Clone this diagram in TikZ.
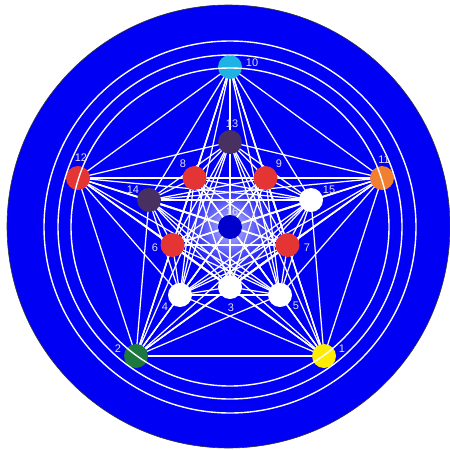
\documentclass[tikz,border=0pt]{standalone}
\usepackage{fontspec}
\setmainfont{Liberation Sans}
\usetikzlibrary{backgrounds}
\definecolor{bgblue}{RGB}{0,0,245}
\definecolor{cyanN}{RGB}{30,178,230}
\definecolor{orangeN}{RGB}{240,128,48}
\definecolor{redN}{RGB}{228,52,52}
\definecolor{purpleN}{RGB}{72,48,96}
\definecolor{greenN}{RGB}{28,120,60}
\definecolor{yellowN}{RGB}{255,236,0}
\definecolor{centerN}{RGB}{0,0,205}
\definecolor{lbl}{RGB}{225,225,240}
\definecolor{glow}{RGB}{195,195,255}
\tikzset{
  dot/.style={circle,inner sep=0pt,minimum size=24pt,fill=#1},
  lab/.style={text=lbl,font=\fontsize{11}{13}\selectfont,inner sep=0pt},
  edge/.style={white,line width=1.25pt},
  ring/.style={white,line width=1.4pt},
}
\begin{document}
\begin{tikzpicture}[x=1pt,y=-1pt]
\useasboundingbox (0,0) rectangle (450,450);
% nodes
\node[dot=yellowN] (n1) at (324,356) {};
\node[dot=greenN] (n2) at (136,356) {};
\node[dot=white] (n3) at (230,287) {};
\node[dot=white] (n4) at (180,295) {};
\node[dot=white] (n5) at (280,295) {};
\node[dot=redN] (n6) at (172.5,245) {};
\node[dot=redN] (n7) at (287.5,245) {};
\node[dot=redN] (n8) at (194.5,178) {};
\node[dot=redN] (n9) at (265.5,178) {};
\node[dot=cyanN] (n10) at (230,67) {};
\node[dot=orangeN] (n11) at (382,178) {};
\node[dot=redN] (n12) at (78,178) {};
\node[dot=purpleN] (n13) at (230,142) {};
\node[dot=purpleN] (n14) at (149,200) {};
\node[dot=white] (n15) at (311,200) {};
\node[dot=centerN] (n16) at (230,227) {};
\begin{pgfonlayer}{background}
\draw[fill=bgblue,draw=black!80,line width=0.6pt] (228.5,226.5) circle (221.5);
\shade[inner color=glow,outer color=bgblue] (n16.center) circle (48);
\foreach \i in {1,...,15}{
  \pgfmathtruncatemacro\s{\i+1}
  \foreach \j in {\s,...,16}{
    \draw[edge] (n\i.center) -- (n\j.center);
  }
}
\end{pgfonlayer}
% rings
\draw[ring] (n16.center) circle (186);
\draw[ring] (n16.center) circle (172);
\draw[ring] (n16.center) circle (159);
% labels
\node[lab] (l1) at (342,349) {1};
\node[lab] (l2) at (118,349) {2};
\node[lab] (l3) at (231,308) {3};
\node[lab] (l4) at (165,307) {4};
\node[lab] (l5) at (296,306) {5};
\node[lab] (l6) at (155,248) {6};
\node[lab] (l7) at (307,248) {7};
\node[lab] (l8) at (183,164) {8};
\node[lab] (l9) at (279,164) {9};
\node[lab] (l10) at (252,63) {10};
\node[lab] (l11) at (384,160) {11};
\node[lab] (l12) at (81,158) {12};
\node[lab] (l13) at (232,124) {13};
\node[lab] (l14) at (133,190) {14};
\node[lab] (l15) at (329,190) {15};
\node[lab] (l16) at (232,212) {16};
\end{tikzpicture}
\end{document}
